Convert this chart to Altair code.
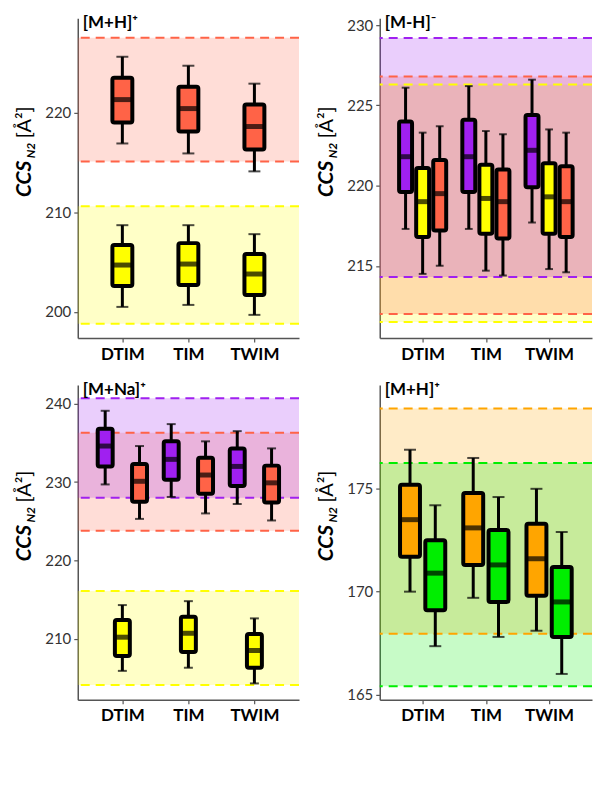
import altair as alt
import pandas as pd

methods = ["DTIM", "TIM", "TWIM"]
compounds = ["DHEA-G", "Epitestosterone-G", "Testosterone-G", "Androstenedione", "Boldenone"]
palette = ["#A020F0", "#FFFF00", "#FF6347", "#FFA500", "#00EE00"]

# ---------- Panel A: [M+H]+ (glucuronides) ----------
a_comp = ["Testosterone-G"] * 3 + ["Epitestosterone-G"] * 3
a_meth = methods * 2
a_low = [216.9, 215.9, 214.1, 200.5, 200.7, 199.7]
a_q1 = [219.0, 218.1, 216.3, 202.6, 202.7, 201.7]
a_med = [221.3, 220.4, 218.6, 204.7, 204.8, 203.8]
a_q3 = [223.5, 222.6, 220.8, 206.7, 206.9, 205.8]
a_high = [225.6, 224.7, 222.9, 208.7, 208.7, 207.8]
a_band_comp = ["Epitestosterone-G", "Testosterone-G"]
a_band_lo = [198.8, 215.1]
a_band_hi = [210.6, 227.5]

# ---------- Panel B: [M-H]- ----------
b_comp = ["DHEA-G", "Epitestosterone-G", "Testosterone-G"] * 3
b_meth = ["DTIM"] * 3 + ["TIM"] * 3 + ["TWIM"] * 3
b_low = [217.3, 214.5, 215.0, 217.3, 214.7, 214.4, 217.7, 214.8, 214.6]
b_q1 = [219.6, 216.8, 217.2, 219.6, 217.0, 216.7, 219.9, 217.0, 216.8]
b_med = [221.8, 219.0, 219.5, 221.8, 219.2, 219.0, 222.2, 219.3, 219.0]
b_q3 = [224.0, 221.1, 221.6, 224.1, 221.3, 221.0, 224.4, 221.4, 221.2]
b_high = [226.1, 223.3, 223.7, 226.2, 223.4, 223.2, 226.6, 223.5, 223.3]
b_band_comp = ["Epitestosterone-G", "Testosterone-G", "DHEA-G"]
b_band_lo = [211.5, 212.0, 214.3]
b_band_hi = [226.3, 226.8, 229.2]

# ---------- Panel C: [M+Na]+ ----------
c_comp = ["DHEA-G", "Epitestosterone-G", "Testosterone-G"] * 3
c_meth = ["DTIM"] * 3 + ["TIM"] * 3 + ["TWIM"] * 3
c_low = [229.7, 205.9, 225.3, 228.1, 206.3, 226.0, 227.2, 204.3, 225.1]
c_q1 = [232.0, 207.8, 227.5, 230.3, 208.3, 228.5, 229.5, 206.3, 227.4]
c_med = [234.6, 210.2, 230.1, 232.9, 210.7, 230.9, 232.0, 208.5, 229.9]
c_q3 = [236.8, 212.4, 232.3, 235.2, 212.8, 233.1, 234.3, 210.6, 232.1]
c_high = [239.1, 214.3, 234.6, 237.4, 214.8, 235.2, 236.5, 212.6, 234.3]
c_band_comp = ["Epitestosterone-G", "Testosterone-G", "DHEA-G"]
c_band_lo = [204.1, 223.8, 228.0]
c_band_hi = [216.1, 236.3, 240.7]

# ---------- Panel D: [M+H]+ (steroids) ----------
d_comp = ["Androstenedione", "Boldenone"] * 3
d_meth = ["DTIM"] * 2 + ["TIM"] * 2 + ["TWIM"] * 2
d_low = [170.0, 167.35, 169.7, 167.8, 168.1, 166.0]
d_q1 = [171.7, 169.1, 171.3, 169.5, 169.8, 167.8]
d_med = [173.5, 170.9, 173.1, 171.3, 171.6, 169.5]
d_q3 = [175.2, 172.5, 174.8, 173.0, 173.3, 171.2]
d_high = [176.9, 174.2, 176.5, 174.6, 175.0, 172.9]
d_band_comp = ["Androstenedione", "Boldenone"]
d_band_lo = [167.95, 165.4]
d_band_hi = [178.9, 176.25]

FONT = "Lato"

LEGEND = alt.Legend(title=None, orient="none", legendX=6, legendY=735, columns=3,
                    direction="horizontal",
                    symbolType="square", symbolSize=190, symbolStrokeColor="black",
                    symbolStrokeWidth=4, labelFont=FONT, labelFontSize=17,
                    labelFontWeight="bold", labelColor="black", columnPadding=28,
                    rowPadding=14, gridAlign="all", labelOffset=16, labelLimit=300)


def box_df(comp, meth, low, q1, med, q3, high):
    return pd.DataFrame({"compound": comp, "method": meth, "low": low, "q1": q1,
                         "med": med, "q3": q3, "high": high})


def band_df(comp, lo, hi):
    return pd.DataFrame({"band": comp, "lo": lo, "hi": hi})


def panel(df, bands, title, ydom, yticks, dodge_order, dodge, width, height, box_w):
    meth_js = "[" + ",".join("'%s'" % m for m in methods) + "]"
    if dodge_order:
        comp_js = "[" + ",".join("'%s'" % c for c in dodge_order) + "]"
        n = len(dodge_order)
        off_expr = "(indexof(%s, datum.compound) - %f) * %f" % (comp_js, (n - 1) / 2, dodge)
    else:
        off_expr = "0"
    pos_expr = "indexof(%s, datum.method) + 1 + %s" % (meth_js, off_expr)

    xenc = alt.X("pos:Q", scale=alt.Scale(domain=[0.4, 3.6], nice=False, zero=False),
                 axis=alt.Axis(title=None, values=[1, 2, 3], labelAngle=0,
                               labelExpr="['', 'DTIM', 'TIM', 'TWIM'][datum.value]"))
    yaxis = alt.Axis(title=None, values=yticks, grid=False)
    yscale = alt.Scale(domain=ydom, nice=False, zero=False)
    band_scale = alt.Scale(domain=compounds, range=palette)
    fill_scale = alt.Scale(domain=compounds, range=palette)

    band_rect = alt.Chart(bands).mark_rect(opacity=0.22).encode(
        y=alt.Y("lo:Q", scale=yscale, axis=yaxis),
        y2="hi:Q",
        color=alt.Color("band:N", scale=band_scale, legend=None),
    )
    band_rule = alt.Chart(bands).transform_fold(["lo", "hi"], as_=["k", "v"]).mark_rule(
        strokeDash=[9, 6], strokeWidth=2
    ).encode(
        y=alt.Y("v:Q", scale=yscale, axis=yaxis),
        stroke=alt.Stroke("band:N", scale=band_scale, legend=None),
    )
    base = alt.Chart(df).transform_calculate(pos=pos_expr)
    whisk = base.mark_rule(color="black", strokeWidth=3).encode(
        x=xenc, y=alt.Y("low:Q", scale=yscale, axis=yaxis), y2="high:Q")
    cap_lo = base.mark_tick(color="black", thickness=2, size=box_w * 0.6,
                            orient="horizontal").encode(
        x=xenc, y=alt.Y("low:Q", scale=yscale, axis=yaxis))
    cap_hi = base.mark_tick(color="black", thickness=2, size=box_w * 0.6,
                            orient="horizontal").encode(
        x=xenc, y=alt.Y("high:Q", scale=yscale, axis=yaxis))
    box = base.mark_bar(width=box_w, stroke="black", strokeWidth=4, cornerRadius=2).encode(
        x=xenc, y=alt.Y("q1:Q", scale=yscale, axis=yaxis), y2="q3:Q",
        fill=alt.Fill("compound:N", scale=fill_scale, legend=LEGEND))
    med = base.mark_tick(color="black", thickness=5, size=box_w,
                         orient="horizontal").encode(
        x=xenc, y=alt.Y("med:Q", scale=yscale, axis=yaxis))

    ttl = alt.Chart(pd.DataFrame({"t": [title]})).mark_text(
        align="left", baseline="alphabetic", font=FONT, fontSize=17, fontWeight="bold",
        color="black").encode(text="t:N", x=alt.value(5), y=alt.value(10))

    c = height / 2 - 30
    yt1 = alt.Chart(pd.DataFrame({"t": ["CCS"]})).mark_text(
        angle=270, align="left", baseline="middle", font=FONT, fontSize=21,
        fontWeight="bold", fontStyle="italic", color="black").encode(
        text="t:N", x=alt.value(-53), y=alt.value(c + 49))
    yt2 = alt.Chart(pd.DataFrame({"t": ["N2"]})).mark_text(
        angle=270, align="left", baseline="middle", font=FONT, fontSize=12,
        fontWeight="bold", fontStyle="italic", color="black").encode(
        text="t:N", x=alt.value(-47), y=alt.value(c + 10))
    yt3 = alt.Chart(pd.DataFrame({"t": ["[Å²]"]})).mark_text(
        angle=270, align="left", baseline="middle", font=FONT, fontSize=20,
        color="black").encode(text="t:N", x=alt.value(-53), y=alt.value(c - 10))

    return alt.layer(band_rect, band_rule, whisk, cap_lo, cap_hi, box, med, ttl, yt1, yt2, yt3
                     ).properties(width=width, height=height)


three = ["DHEA-G", "Epitestosterone-G", "Testosterone-G"]
pA = panel(box_df(a_comp, a_meth, a_low, a_q1, a_med, a_q3, a_high),
           band_df(a_band_comp, a_band_lo, a_band_hi), "[M+H]⁺",
           [197.37, 229.47], [200, 210, 220], None, 0, 222, 321, 20)
pB = panel(box_df(b_comp, b_meth, b_low, b_q1, b_med, b_q3, b_high),
           band_df(b_band_comp, b_band_lo, b_band_hi), "[M-H]⁻",
           [210.5, 230.43], [215, 220, 225, 230], three, 0.27, 213, 321, 13)
pC = panel(box_df(c_comp, c_meth, c_low, c_q1, c_med, c_q3, c_high),
           band_df(c_band_comp, c_band_lo, c_band_hi), "[M+Na]⁺",
           [202.2, 242.4], [210, 220, 230, 240], three, 0.26, 222, 316, 15)
pD = panel(box_df(d_comp, d_meth, d_low, d_q1, d_med, d_q3, d_high),
           band_df(d_band_comp, d_band_lo, d_band_hi), "[M+H]⁺",
           [164.74, 180.05], [165, 170, 175], ["Androstenedione", "Boldenone"], 0.4,
           213, 316, 20)

chart = alt.vconcat(
    alt.hconcat(pA, pB, spacing=16),
    alt.hconcat(pC, pD, spacing=16),
    spacing=19,
).resolve_scale(fill="shared").properties(
    padding={"left": 6, "top": 5, "right": 0, "bottom": 0}
).configure_view(stroke=None).configure_axis(
    domainColor="#555555", domainWidth=1.5, tickColor="#555555", tickSize=4,
    tickWidth=1.2, labelFont=FONT, grid=False
).configure_axisX(
    labelFontSize=17, labelFontWeight="bold", labelColor="black", labelPadding=4
).configure_axisY(
    labelFontSize=15, labelColor="#333333", labelPadding=3
)

chart.save("out.html", embed_options={"renderer": "svg", "actions": False})
